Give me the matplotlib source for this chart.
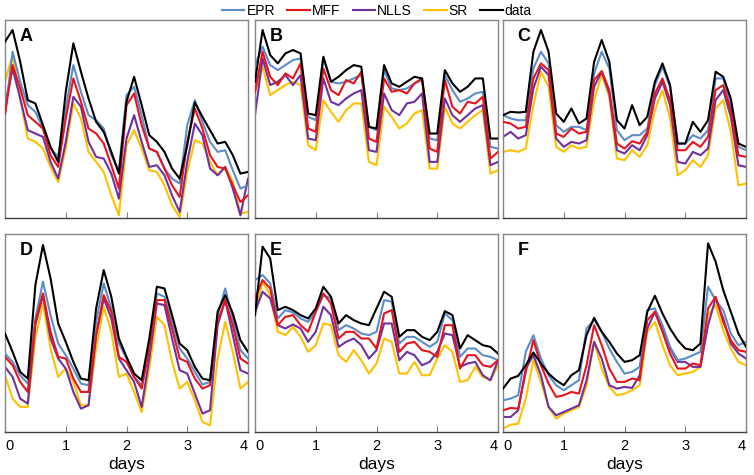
import numpy as np
import matplotlib
matplotlib.use("Agg")
import matplotlib.pyplot as plt

plt.rcParams['font.family'] = ['Liberation Sans', 'DejaVu Sans']

# time axis: 4 days sampled every 3 hours
days = np.linspace(0, 4, 33)
series_names = ["EPR", "MFF", "NLLS", "SR", "data"]
panel_labels = ["A", "B", "C", "D", "E", "F"]
xtick_values = [0, 1, 2, 3, 4]
xtick_labels = ["0", "1", "2", "3", "4"]

# ---- Panel A ----
A_EPR = [308,498,408,338,318,268,208,183,328,458,378,308,293,268,188,143,368,393,308,208,198,148,118,103,278,353,288,228,198,203,143,88,98]
A_MFF = [313,458,388,308,288,268,188,153,298,418,348,268,253,223,158,88,338,373,278,208,198,148,98,63,228,328,268,188,153,148,98,48,68]
A_NLLS = [338,448,358,263,253,243,168,118,228,363,333,228,183,178,133,58,238,308,228,153,158,128,68,18,168,283,248,148,128,153,88,8,118]
A_SR = [408,488,358,238,228,208,153,108,208,343,298,198,168,138,68,8,218,263,208,143,138,98,38,3,138,233,223,168,128,153,108,13,18]
A_data = [528,563,468,353,343,278,213,168,378,523,438,358,288,258,198,133,348,423,338,248,228,198,148,118,218,346,303,263,223,228,188,133,138]

# ---- Panel B ----
B_EPR = [458,513,458,443,458,473,478,303,293,478,408,403,408,418,428,273,263,443,388,383,388,403,413,238,233,428,383,348,358,373,378,213,208]
B_MFF = [378,498,423,398,433,418,463,268,258,448,383,368,413,403,438,238,228,418,378,383,373,403,418,208,198,413,333,313,348,343,363,178,198]
B_NLLS = [308,478,398,408,428,398,428,238,233,418,348,338,358,373,383,203,198,373,323,308,343,348,373,168,168,358,308,288,308,328,338,158,168]
B_SR = [378,453,368,383,398,408,398,218,203,353,318,288,323,343,343,168,158,333,303,268,283,313,323,148,148,333,283,268,288,308,323,133,143]
B_data = [408,563,488,463,493,503,493,313,308,483,408,423,443,458,453,273,268,458,403,393,408,423,418,253,253,443,403,378,393,418,418,238,238]

# ---- Panel C ----
C_EPR = [308,298,293,293,448,498,463,278,258,273,273,263,433,498,448,263,233,248,248,268,398,453,393,223,223,248,238,263,418,418,343,213,203]
C_MFF = [288,283,268,273,418,463,443,253,243,268,253,258,413,440,383,223,208,230,223,258,373,418,353,203,203,228,213,243,383,398,323,188,183]
C_NLLS = [243,258,238,248,388,453,428,238,213,228,223,233,393,438,373,203,193,218,203,248,358,408,338,168,163,198,188,208,353,383,303,158,153]
C_SR = [198,203,198,208,338,438,393,213,198,218,208,213,353,428,363,178,173,203,183,218,323,383,298,128,143,173,153,188,328,353,258,98,103]
C_data = [308,318,316,318,498,563,498,313,288,328,283,298,468,533,468,293,268,338,278,303,408,463,398,223,223,288,258,293,438,423,358,223,213]

# ---- Panel D ----
D_EPR = [235,210,170,145,340,450,350,265,230,190,145,140,330,445,370,265,220,165,140,250,415,405,330,250,220,180,142,150,350,430,340,245,220]
D_MFF = [225,200,150,120,330,415,300,225,220,160,120,120,290,410,360,225,210,165,130,250,395,395,310,220,210,160,130,140,330,395,320,220,205]
D_NLLS = [195,165,100,85,320,410,280,220,190,120,70,80,290,400,340,220,185,150,75,220,385,380,280,185,175,115,55,65,320,395,290,185,175]
D_SR = [170,100,75,75,280,385,250,165,190,150,80,80,250,375,300,165,175,120,60,190,345,320,210,130,150,95,30,20,220,330,240,130,150]
D_data = [295,240,180,160,440,560,460,325,270,210,160,155,370,485,405,280,225,175,155,280,435,430,350,265,245,195,160,155,360,410,355,275,240]

# ---- Panel E ----
E_EPR = [455,470,445,340,365,358,340,330,360,410,400,305,320,310,295,290,300,395,390,265,285,285,270,255,270,355,335,225,250,250,230,225,215]
E_MFF = [400,455,430,320,345,350,320,300,360,415,385,280,300,300,280,280,250,355,365,240,265,270,245,240,225,320,320,190,230,230,200,195,215]
E_NLLS = [360,420,400,320,310,322,310,270,300,375,350,255,270,280,260,220,245,325,325,215,240,230,200,210,240,295,290,195,205,210,170,155,215]
E_SR = [355,450,410,300,290,315,285,240,260,325,320,230,210,245,215,175,205,280,270,175,175,210,170,170,220,260,240,150,155,195,165,155,200]
E_data = [350,555,520,365,375,365,350,340,370,435,405,325,350,335,325,320,370,420,405,285,305,305,285,275,300,362,350,250,290,275,260,255,235]

# ---- Panel F ----
F_EPR = [95,100,110,240,290,220,170,140,125,140,155,310,335,300,250,210,175,180,195,365,370,320,255,215,220,230,240,435,395,365,295,260,270]
F_MFF = [65,72,70,180,275,200,145,105,110,120,115,200,320,260,190,150,150,160,155,335,360,300,235,190,190,205,200,370,405,330,275,245,240]
F_NLLS = [45,45,65,190,230,170,75,50,60,70,80,155,270,220,140,130,135,132,170,310,360,310,250,210,210,195,195,320,400,340,265,235,220]
F_SR = [10,22,25,100,215,150,75,40,55,65,75,140,270,190,135,110,115,125,140,300,330,260,200,170,175,180,195,350,380,305,250,210,200]
F_data = [130,160,168,200,238,205,175,155,140,170,185,290,342,300,270,235,210,215,230,360,408,355,310,275,250,245,265,565,510,425,360,295,255]

panels = [
    [A_EPR, A_MFF, A_NLLS, A_SR, A_data],
    [B_EPR, B_MFF, B_NLLS, B_SR, B_data],
    [C_EPR, C_MFF, C_NLLS, C_SR, C_data],
    [D_EPR, D_MFF, D_NLLS, D_SR, D_data],
    [E_EPR, E_MFF, E_NLLS, E_SR, E_data],
    [F_EPR, F_MFF, F_NLLS, F_SR, F_data],
]

colors = ["#5B8DC9", "#E8141B", "#7030A0", "#FFC000", "#000000"]
zorders = [3, 4, 2, 1, 5]

W, H = 754, 475
fig = plt.figure(figsize=(W / 100, H / 100), dpi=100)

col_left = [5, 255, 503]
col_w = 243
row_top = [20, 234]
row_h = 198

handles = []
for k, data in enumerate(panels):
    r, c = divmod(k, 3)
    l = col_left[c]
    t = row_top[r]
    ax = fig.add_axes([l / W, 1 - (t + row_h) / H, col_w / W, row_h / H])
    for s, (vals, col, z) in enumerate(zip(data, colors, zorders)):
        ln, = ax.plot(days, vals, color=col, lw=1.5, zorder=z, label=series_names[s],
                      solid_joinstyle='round')
        if k == 0:
            handles.append(ln)
    ax.set_xlim(0, 4)
    ax.set_ylim(0, 593)
    ax.set_yticks([])
    ax.set_xticks(xtick_values)
    ax.tick_params(axis='x', direction='in', length=4, width=0.8, color='#808080',
                   labelsize=10.5, pad=5)
    for side in ['left', 'right', 'top']:
        ax.spines[side].set_color('#868686')
        ax.spines[side].set_linewidth(1.0)
    ax.spines['bottom'].set_color('#404040')
    ax.spines['bottom'].set_linewidth(1.0)
    if r == 1:
        ax.set_xticklabels(xtick_labels)
        tl = ax.get_xticklabels()
        tl[0].set_ha('left')
        tl[-1].set_ha('right')
        ax.set_xlabel('days', fontsize=12.5, labelpad=3)
    else:
        ax.set_xticklabels([])
    ax.text(0.06, 0.915, panel_labels[k], transform=ax.transAxes, fontsize=13,
            fontweight='bold', ha='left', va='center', zorder=10)

fig.legend(handles, series_names, loc='upper center', bbox_to_anchor=(0.5, 1.006),
           ncol=5, frameon=False, fontsize=10, handlelength=1.6, handletextpad=0.15,
           columnspacing=0.9, borderaxespad=0.1)

fig.savefig('out.png', dpi=100)
